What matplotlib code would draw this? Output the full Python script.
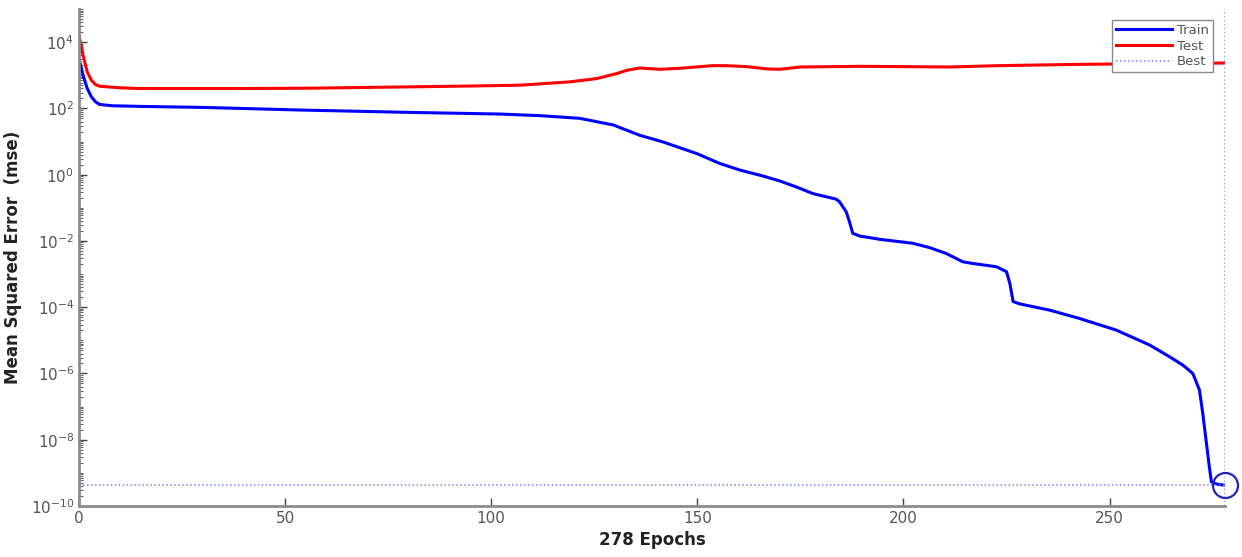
import numpy as np
import matplotlib
matplotlib.use("Agg")
import matplotlib.pyplot as plt
from matplotlib.ticker import LogLocator, NullFormatter, FixedLocator

# ---- data (log10 of MSE) ----
train_epochs = [0, 1, 2, 3, 4, 5, 8, 15, 30, 54, 80, 102, 112, 121.5, 129.6, 136, 141.6, 149.8,
                155.4, 160.3, 165.9, 170, 174, 178, 183.7, 184.5, 186.1, 186.9, 187.7, 189.3,
                194.2, 202.2, 206.3, 210.4, 214.4, 216.8, 222.6, 225, 225.8, 226.6, 228.2,
                235.5, 242.7, 251.6, 259.7, 264.6, 267.8, 270.2, 271.8, 272.6, 273.4, 274.2,
                274.7, 276, 277, 278]
train_log = [3.5, 3.0, 2.6, 2.35, 2.2, 2.12, 2.08, 2.06, 2.03, 1.95, 1.88, 1.83, 1.78, 1.70,
             1.50, 1.19, 0.99, 0.64, 0.34, 0.14, -0.04, -0.19, -0.37, -0.57, -0.74, -0.82,
             -1.12, -1.42, -1.77, -1.85, -1.95, -2.07, -2.2, -2.38, -2.63, -2.68, -2.78, -2.93,
             -3.28, -3.83, -3.9, -4.09, -4.34, -4.69, -5.14, -5.5, -5.75, -6.0, -6.5, -7.2,
             -8.01, -8.82, -9.27, -9.34, -9.36, -9.37]

test_epochs = [0, 1, 2, 3, 4, 5, 10, 15, 25, 40, 56, 80, 92, 102, 107, 119, 125.6, 130.4,
               132.9, 136, 140.9, 145.7, 153.7, 157, 162, 167, 170, 175, 190, 211, 223, 243,
               260, 278]
test_log = [4.2, 3.6, 3.1, 2.85, 2.72, 2.67, 2.62, 2.6, 2.6, 2.6, 2.61, 2.65, 2.67, 2.69, 2.70,
            2.80, 2.90, 3.05, 3.15, 3.22, 3.18, 3.21, 3.29, 3.29, 3.26, 3.19, 3.18, 3.25, 3.27,
            3.25, 3.29, 3.33, 3.35, 3.37]

best_epoch = 278
best_log = -9.37
n_epochs = 278
x_ticks = [0, 50, 100, 150, 200, 250]
y_major_exp = [-10, -8, -6, -4, -2, 0, 2, 4]

train = 10.0 ** np.array(train_log)
test = 10.0 ** np.array(test_log)
best_val = 10.0 ** best_log

fig = plt.figure(figsize=(12.42, 5.57), dpi=100)
ax = fig.add_axes([79 / 1242, 1 - 506 / 557, (1225 - 79) / 1242, (506 - 9) / 557])

ax.plot(train_epochs, train, color="#0000ff", lw=2.2, label="Train", solid_joinstyle="round")
ax.plot(test_epochs, test, color="#ff0000", lw=2.2, label="Test", solid_joinstyle="round")
ax.axhline(best_val, color="#7f7fff", lw=1.1, ls=(0, (1, 1.6)), label="Best")
ax.axvline(best_epoch, color="#7f7fff", lw=1.1, ls=(0, (1, 1.6)))
ax.plot([best_epoch], [best_val], marker="o", ms=18, mfc="none", mec="#2323b8", mew=1.6,
        clip_on=False, ls="none")

ax.set_yscale("log")
ax.set_xlim(0, n_epochs)
ax.set_ylim(1e-10, 1e5)

ax.xaxis.set_major_locator(FixedLocator(x_ticks))
ax.yaxis.set_major_locator(FixedLocator([10.0 ** e for e in y_major_exp]))
ax.yaxis.set_minor_locator(LogLocator(base=10, subs=np.arange(1, 10), numticks=100))
ax.yaxis.set_minor_formatter(NullFormatter())
ax.set_yticklabels([r"$10^{%d}$" % e for e in y_major_exp])

for s in ["top", "right"]:
    ax.spines[s].set_visible(False)
for s in ["left", "bottom"]:
    ax.spines[s].set_color("#8c8c8c")
    ax.spines[s].set_linewidth(2)

ax.tick_params(axis="both", which="major", direction="in", length=6, width=1, color="#444444",
               labelcolor="#555555", labelsize=11)
ax.tick_params(axis="y", which="minor", direction="in", length=3, width=0.8, color="#666666")
ax.tick_params(axis="x", which="minor", bottom=False)

ax.set_xlabel("278 Epochs", fontsize=12, fontweight="bold", color="#222222", labelpad=4)
ax.set_ylabel("Mean Squared Error  (mse)", fontsize=12, fontweight="bold", color="#222222",
              labelpad=6)

leg = ax.legend(loc="upper right", bbox_to_anchor=(0.9895, 0.978), fontsize=9.5,
                frameon=True, fancybox=False, framealpha=1.0, handlelength=4.2, borderpad=0.3,
                labelspacing=0.2, handletextpad=0.4, borderaxespad=0.0)
leg.get_frame().set_edgecolor("#888888")
leg.get_frame().set_linewidth(1.0)
for t in leg.get_texts():
    t.set_color("#555555")

fig.savefig("out.png", dpi=100)
